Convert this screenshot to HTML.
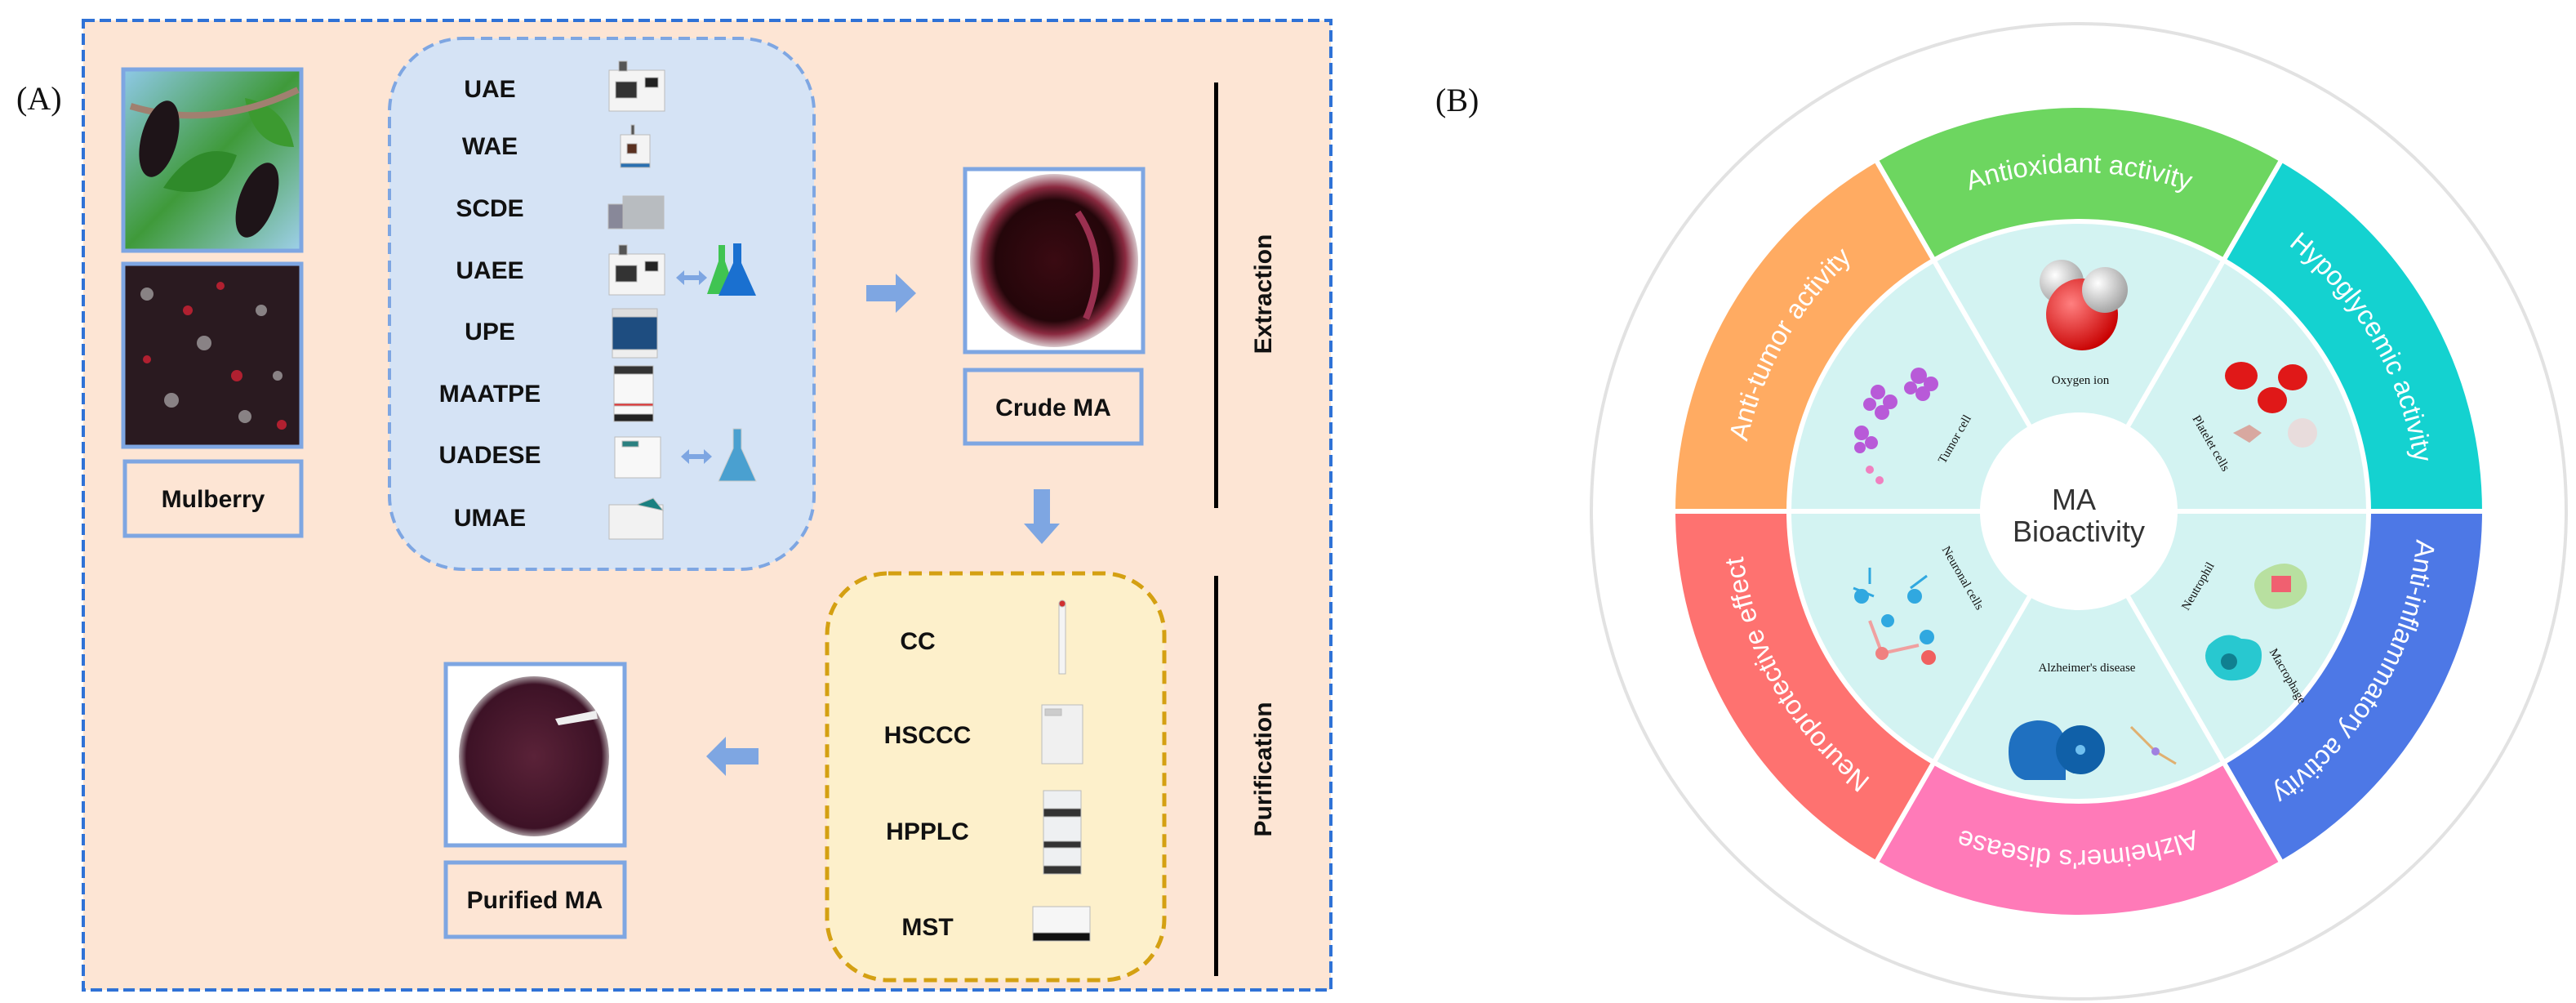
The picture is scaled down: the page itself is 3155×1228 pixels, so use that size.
<!DOCTYPE html>
<html><head><meta charset="utf-8"><style>
html,body{margin:0;padding:0;background:#fff;}
svg{display:block;}
.lb{font-family:"Liberation Sans",Arial,sans-serif;font-weight:bold;font-size:30px;fill:#111;text-anchor:middle;}
.sm{font-family:"Liberation Serif",serif;font-size:15px;fill:#111;text-anchor:middle;}
.ring{font-family:"Liberation Sans",sans-serif;font-size:33px;fill:#fff;}
</style></head><body>
<svg width="3155" height="1228" viewBox="0 0 3155 1228" xmlns="http://www.w3.org/2000/svg">
<defs>
<linearGradient id="leaf" x1="0" y1="0" x2="1" y2="1"><stop offset="0" stop-color="#8fc9e8"/><stop offset=".5" stop-color="#3f9a3a"/><stop offset="1" stop-color="#9ed0ea"/></linearGradient>
<radialGradient id="crude" cx=".5" cy=".5" r=".5"><stop offset="0" stop-color="#3a0a12"/><stop offset=".7" stop-color="#24060a"/><stop offset=".85" stop-color="#8a2a40"/><stop offset="1" stop-color="#d8c8cc"/></radialGradient>
<radialGradient id="pur" cx=".5" cy=".5" r=".5"><stop offset="0" stop-color="#5a2238"/><stop offset=".9" stop-color="#3d1226"/><stop offset="1" stop-color="#a89aa0"/></radialGradient>
<radialGradient id="oxy" cx=".35" cy=".35" r=".7"><stop offset="0" stop-color="#ff8080"/><stop offset="1" stop-color="#c80000"/></radialGradient>
<radialGradient id="hyd" cx=".35" cy=".35" r=".7"><stop offset="0" stop-color="#fff"/><stop offset="1" stop-color="#a0a0a0"/></radialGradient>
<path id="arc" d="M 2131 626 A 415 415 0 1 1 2961 626 A 415 415 0 1 1 2131 626"/>
</defs>

<!-- Panel A -->
<text x="20" y="134" font-family="Liberation Serif,serif" font-size="40" fill="#111">(A)</text>
<rect x="102" y="25" width="1528" height="1187" fill="#fde5d4" stroke="#2f72d6" stroke-width="4" stroke-dasharray="14 6"/>

<!-- mulberry photos -->
<rect x="151" y="85" width="218" height="222" fill="url(#leaf)" stroke="#7ea6e2" stroke-width="5"/>
<path d="M200 230 q40 -60 90 -40 q-20 60 -90 40 z" fill="#2f8a2a"/>
<path d="M300 120 q50 10 60 60 q-50 0 -60 -60 z" fill="#3c9a30"/>
<path d="M160 130 Q260 160 365 110" stroke="#a08070" stroke-width="8" fill="none"/>
<ellipse cx="195" cy="170" rx="22" ry="48" fill="#1e1418" transform="rotate(15 195 170)"/>
<ellipse cx="315" cy="245" rx="22" ry="48" fill="#1e1418" transform="rotate(20 315 245)"/>
<rect x="151" y="323" width="218" height="224" fill="#2a1a20" stroke="#7ea6e2" stroke-width="5"/>
<g fill="#c8c8c8" opacity=".6"><circle cx="180" cy="360" r="8"/><circle cx="250" cy="420" r="9"/><circle cx="320" cy="380" r="7"/><circle cx="210" cy="490" r="9"/><circle cx="300" cy="510" r="8"/><circle cx="340" cy="460" r="6"/></g>
<g fill="#b02030"><circle cx="230" cy="380" r="6"/><circle cx="290" cy="460" r="7"/><circle cx="180" cy="440" r="5"/><circle cx="345" cy="520" r="6"/><circle cx="270" cy="350" r="5"/></g>
<rect x="153" y="565" width="216" height="91" fill="#fde5d4" stroke="#7ea6e2" stroke-width="5"/>
<text class="lb" x="261" y="621" font-size="28">Mulberry</text>

<!-- extraction box -->
<rect x="477" y="47" width="520" height="650" rx="90" fill="#d5e3f5" stroke="#7ea6e2" stroke-width="4" stroke-dasharray="14 8"/>
<g>
<text class="lb" x="600" y="119">UAE</text>
<text class="lb" x="600" y="189">WAE</text>
<text class="lb" x="600" y="265">SCDE</text>
<text class="lb" x="600" y="341">UAEE</text>
<text class="lb" x="600" y="416">UPE</text>
<text class="lb" x="600" y="492">MAATPE</text>
<text class="lb" x="600" y="567">UADESE</text>
<text class="lb" x="600" y="644">UMAE</text>
</g>
<g stroke="#bbb" stroke-width="1">
<rect x="746" y="86" width="68" height="50" fill="#f4f4f4"/><rect x="754" y="100" width="26" height="20" fill="#333"/><rect x="790" y="95" width="16" height="12" fill="#222"/><rect x="758" y="75" width="10" height="12" fill="#555"/>
<rect x="760" y="165" width="36" height="38" fill="#f4f4f4"/><rect x="768" y="176" width="12" height="12" fill="#5a3020"/><rect x="760" y="200" width="36" height="5" fill="#2a70b0"/><rect x="773" y="153" width="4" height="12" fill="#555"/>
<rect x="745" y="250" width="18" height="30" fill="#889"/><rect x="763" y="240" width="50" height="40" fill="#b8bcc0"/>
<rect x="746" y="311" width="68" height="50" fill="#f4f4f4"/><rect x="754" y="325" width="26" height="20" fill="#333"/><rect x="790" y="320" width="16" height="12" fill="#222"/><rect x="758" y="300" width="10" height="12" fill="#555"/>
<rect x="750" y="378" width="55" height="60" fill="#1e4d80"/><rect x="750" y="378" width="55" height="10" fill="#ddd"/><rect x="750" y="428" width="55" height="10" fill="#eee"/>
<rect x="752" y="448" width="48" height="68" fill="#f8f8f8"/><rect x="752" y="448" width="48" height="10" fill="#333"/><rect x="752" y="507" width="48" height="9" fill="#222"/><rect x="752" y="494" width="48" height="3" fill="#e03030"/>
<rect x="753" y="535" width="56" height="50" fill="#f8f8f8"/><rect x="762" y="540" width="20" height="7" fill="#2a8080"/>
<rect x="746" y="618" width="66" height="42" fill="#f2f2f2"/><path d="M780 618 L800 610 L812 625 Z" fill="#1a8080"/>
</g>
<g fill="#7ea6e2">
<path d="M828 340 l10 -9 v6 h18 v-6 l10 9 -10 9 v-6 h-18 v6 z"/>
<path d="M834 559 l10 -9 v6 h18 v-6 l10 9 -10 9 v-6 h-18 v6 z"/>
</g>
<path d="M880 300 h8 v20 l14 40 h-36 l14 -40 z" fill="#30c040" opacity=".9"/>
<path d="M898 298 h10 v24 l18 40 h-46 l18 -40 z" fill="#1a70d0"/>
<path d="M898 525 h10 v24 l18 40 h-46 l18 -40 z" fill="#4aa0d0" stroke="#ccc"/>

<path d="M1061 349 h36 v-14 l25 24 -25 24 v-14 h-36 z" fill="#7ea6e2"/>
<path d="M1266 599 h20 v42 h12 l-22 25 -22 -25 h12 z" fill="#7ea6e2"/>
<path d="M929 916 h-40 v-14 l-24 24 24 24 v-14 h40 z" fill="#7ea6e2"/>

<rect x="1182" y="207" width="218" height="224" fill="#fff" stroke="#7ea6e2" stroke-width="5"/>
<ellipse cx="1291" cy="319" rx="103" ry="106" fill="url(#crude)"/>
<path d="M1320 260 Q1360 320 1330 390" stroke="#9a3050" stroke-width="8" fill="none"/>
<rect x="1182" y="453" width="216" height="90" fill="#fde5d4" stroke="#7ea6e2" stroke-width="5"/>
<text class="lb" x="1290" y="509" font-size="28">Crude MA</text>

<rect x="1487" y="101" width="5" height="521" fill="#000"/>
<text class="lb" font-size="28" transform="translate(1557 360) rotate(-90)">Extraction</text>
<rect x="1487" y="705" width="5" height="490" fill="#000"/>
<text class="lb" font-size="28" transform="translate(1557 942) rotate(-90)">Purification</text>

<rect x="1013" y="702" width="413" height="498" rx="75" fill="#fdf0cb" stroke="#d4a012" stroke-width="5" stroke-dasharray="16 9"/>
<text class="lb" x="1124" y="795">CC</text>
<text class="lb" x="1136" y="910">HSCCC</text>
<text class="lb" x="1136" y="1028">HPPLC</text>
<text class="lb" x="1136" y="1145">MST</text>
<g stroke="#bbb" stroke-width="1">
<rect x="1297" y="740" width="8" height="85" fill="#f4f4f4"/><circle cx="1301" cy="739" r="4" fill="#d03030"/>
<rect x="1276" y="863" width="50" height="72" fill="#f0f0f0"/><rect x="1280" y="868" width="20" height="8" fill="#ccc"/>
<rect x="1278" y="968" width="46" height="102" fill="#eef0f2"/><rect x="1278" y="990" width="46" height="10" fill="#333"/><rect x="1278" y="1030" width="46" height="8" fill="#333"/><rect x="1278" y="1060" width="46" height="10" fill="#333"/>
<rect x="1265" y="1110" width="70" height="40" fill="#f6f6f6"/><rect x="1265" y="1142" width="70" height="10" fill="#111"/>
</g>

<rect x="546" y="813" width="219" height="222" fill="#fff" stroke="#7ea6e2" stroke-width="5"/>
<ellipse cx="654" cy="926" rx="92" ry="98" fill="url(#pur)"/>
<path d="M680 880 l50 -10 l2 10 l-48 8 z" fill="#eee"/>
<rect x="546" y="1056" width="219" height="91" fill="#fde5d4" stroke="#7ea6e2" stroke-width="5"/>
<text class="lb" x="655" y="1112" font-size="28">Purified MA</text>

<!-- Panel B -->
<text x="1758" y="136" font-family="Liberation Serif,serif" font-size="40" fill="#111">(B)</text>
<circle cx="2546" cy="626" r="597" fill="#fff" stroke="#e2e2e2" stroke-width="4"/>
<g stroke="#fff" stroke-width="6">
<path d="M2297.5 195.6 A497 497 0 0 1 2794.5 195.6 L2723.5 318.6 A355 355 0 0 0 2368.5 318.6 Z" fill="#6dd660"/>
<path d="M2794.5 195.6 A497 497 0 0 1 3043 626 L2901 626 A355 355 0 0 0 2723.5 318.6 Z" fill="#14d2d0"/>
<path d="M3043 626 A497 497 0 0 1 2794.5 1056.4 L2723.5 933.4 A355 355 0 0 0 2901 626 Z" fill="#4d78e6"/>
<path d="M2794.5 1056.4 A497 497 0 0 1 2297.5 1056.4 L2368.5 933.4 A355 355 0 0 0 2723.5 933.4 Z" fill="#ff7ab8"/>
<path d="M2297.5 1056.4 A497 497 0 0 1 2049 626 L2191 626 A355 355 0 0 0 2368.5 933.4 Z" fill="#fe7270"/>
<path d="M2049 626 A497 497 0 0 1 2297.5 195.6 L2368.5 318.6 A355 355 0 0 0 2191 626 Z" fill="#ffab62"/>
</g>
<circle cx="2546" cy="626" r="352" fill="#d3f3f2"/>
<g stroke="#fff" stroke-width="6">
<line x1="2546" y1="626" x2="2901" y2="626"/><line x1="2546" y1="626" x2="2191" y2="626"/>
<line x1="2546" y1="626" x2="2723.5" y2="318.6"/><line x1="2546" y1="626" x2="2368.5" y2="318.6"/>
<line x1="2546" y1="626" x2="2723.5" y2="933.4"/><line x1="2546" y1="626" x2="2368.5" y2="933.4"/>
</g>
<circle cx="2546" cy="626" r="121" fill="#fff"/>
<text x="2540" y="624" font-family="Liberation Sans,sans-serif" font-size="36" fill="#333" text-anchor="middle">MA</text>
<text x="2546" y="663" font-family="Liberation Sans,sans-serif" font-size="36" fill="#333" text-anchor="middle">Bioactivity</text>

<text class="ring"><textPath href="#arc" startOffset="217" text-anchor="middle">Anti-tumor activity</textPath></text>
<text class="ring"><textPath href="#arc" startOffset="652" text-anchor="middle">Antioxidant activity</textPath></text>
<text class="ring"><textPath href="#arc" startOffset="1086" text-anchor="middle">Hypoglycemic activity</textPath></text>
<text class="ring"><textPath href="#arc" startOffset="1521" text-anchor="middle">Anti-inflammatory activity</textPath></text>
<text class="ring"><textPath href="#arc" startOffset="1956" text-anchor="middle">Alzheimer's disease</textPath></text>
<text class="ring"><textPath href="#arc" startOffset="2390" text-anchor="middle">Neuroprotective effect</textPath></text>

<circle cx="2525" cy="345" r="27" fill="url(#hyd)"/>
<circle cx="2550" cy="385" r="44" fill="url(#oxy)"/>
<circle cx="2578" cy="355" r="28" fill="url(#hyd)"/>
<text class="sm" x="2548" y="470">Oxygen ion</text>

<g fill="#b85ad8"><circle cx="2300" cy="480" r="9"/><circle cx="2315" cy="492" r="9"/><circle cx="2305" cy="505" r="9"/><circle cx="2290" cy="495" r="8"/><circle cx="2350" cy="460" r="10"/><circle cx="2365" cy="470" r="9"/><circle cx="2355" cy="482" r="9"/><circle cx="2340" cy="475" r="8"/><circle cx="2280" cy="530" r="9"/><circle cx="2292" cy="542" r="8"/><circle cx="2278" cy="548" r="7"/></g>
<g fill="#f080c0"><circle cx="2290" cy="575" r="5"/><circle cx="2302" cy="588" r="5"/></g>
<text class="sm" transform="translate(2398 540) rotate(-60)">Tumor cell</text>

<g fill="#e01818"><ellipse cx="2745" cy="460" rx="20" ry="17"/><ellipse cx="2808" cy="462" rx="18" ry="16"/><ellipse cx="2783" cy="490" rx="18" ry="16"/></g>
<circle cx="2820" cy="530" r="18" fill="#e8dcdc"/>
<path d="M2735 530 l20 -10 l15 10 l-15 12 z" fill="#d8a8a0"/>
<text class="sm" transform="translate(2704 545) rotate(60)">Platelet cells</text>

<g stroke="#30a8e0" stroke-width="3" fill="none"><path d="M2270 720 l25 10 M2290 715 l0 -20 M2340 720 l20 -15"/></g>
<g fill="#30a8e0"><circle cx="2280" cy="730" r="9"/><circle cx="2345" cy="730" r="9"/><circle cx="2312" cy="760" r="8"/><circle cx="2360" cy="780" r="9"/></g>
<path d="M2290 760 L2305 800 L2350 790" stroke="#f0a0a0" stroke-width="4" fill="none"/>
<circle cx="2305" cy="800" r="8" fill="#f08080"/><circle cx="2362" cy="805" r="9" fill="#f06060"/>
<text class="sm" transform="translate(2400 710) rotate(60)">Neuronal cells</text>

<path d="M2770 700 q30 -20 50 0 q15 25 -10 40 q-35 15 -45 -10 q-10 -18 5 -30 z" fill="#b8e0a0"/>
<rect x="2782" y="705" width="24" height="20" fill="#f06070"/>
<path d="M2705 790 q20 -20 40 -8 q25 0 25 20 q0 25 -25 30 q-25 5 -35 -10 q-15 -15 -5 -32 z" fill="#28c8d0"/>
<circle cx="2730" cy="810" r="10" fill="#108090"/>
<text class="sm" transform="translate(2696 720) rotate(-60)">Neutrophil</text>
<text class="sm" transform="translate(2798 830) rotate(60)">Macrophage</text>

<text class="sm" x="2556" y="822">Alzheimer's disease</text>
<path d="M2480 955 q-20 -5 -20 -35 q0 -35 35 -38 q35 0 35 35 l0 38 z" fill="#1f70c0"/>
<circle cx="2548" cy="918" r="30" fill="#1060a8"/>
<circle cx="2548" cy="918" r="6" fill="#70c0f0"/>
<path d="M2610 890 l30 30 l25 15" stroke="#e0b070" stroke-width="3" fill="none"/>
<circle cx="2640" cy="920" r="5" fill="#a080e0"/>
</svg>
</body></html>
